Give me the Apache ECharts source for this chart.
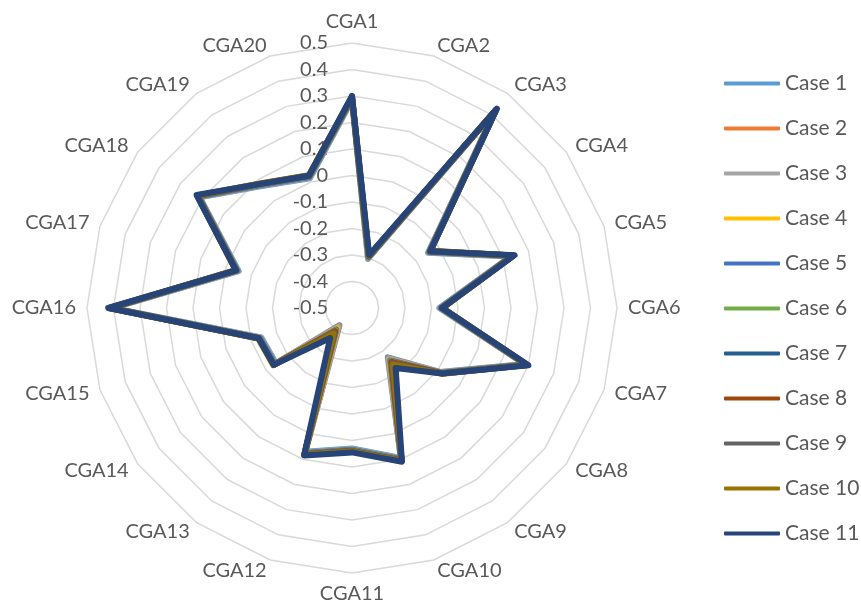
<!DOCTYPE html>
<html>
<head>
<meta charset="utf-8">
<script src="https://cdn.jsdelivr.net/npm/echarts@6/dist/echarts.min.js"></script>
<style>
  html, body { margin: 0; padding: 0; background: #ffffff; }
  #chart { width: 861px; height: 613px; }
</style>
</head>
<body>
<div id="chart"></div>
<script>
// Indicator names, in clockwise order starting at the top
const categories = ['CGA1','CGA2','CGA3','CGA4','CGA5','CGA6','CGA7','CGA8','CGA9','CGA10',
  'CGA11','CGA12','CGA13','CGA14','CGA15','CGA16','CGA17','CGA18','CGA19','CGA20'];

// Radial scale
const axisMin = -0.5;
const axisMax = 0.5;
const axisSplits = 10;

// Series values, one array per case (same order as categories)
const case1  = [0.285,-0.305,0.415,-0.145,0.130,-0.170,0.185,-0.090,-0.270,0.095,0.030,0.070,-0.420,-0.145,-0.140,0.405,-0.050,0.210,0.070,0.015];
const case2  = [0.290,-0.300,0.420,-0.140,0.135,-0.165,0.190,-0.085,-0.265,0.100,0.035,0.075,-0.415,-0.140,-0.135,0.410,-0.045,0.215,0.075,0.020];
const case3  = [0.287,-0.302,0.417,-0.143,0.132,-0.168,0.187,-0.088,-0.262,0.097,0.032,0.072,-0.410,-0.143,-0.138,0.407,-0.048,0.212,0.072,0.017];
const case4  = [0.292,-0.298,0.422,-0.138,0.137,-0.163,0.192,-0.083,-0.258,0.102,0.037,0.077,-0.405,-0.138,-0.133,0.412,-0.043,0.217,0.077,0.022];
const case5  = [0.290,-0.299,0.420,-0.140,0.135,-0.165,0.190,-0.085,-0.255,0.100,0.035,0.075,-0.400,-0.140,-0.135,0.410,-0.045,0.215,0.075,0.020];
const case6  = [0.293,-0.297,0.423,-0.137,0.138,-0.162,0.193,-0.082,-0.250,0.103,0.038,0.078,-0.395,-0.137,-0.132,0.413,-0.042,0.218,0.078,0.023];
const case7  = [0.295,-0.295,0.425,-0.135,0.140,-0.160,0.195,-0.080,-0.245,0.105,0.040,0.080,-0.390,-0.135,-0.130,0.415,-0.040,0.220,0.080,0.025];
const case8  = [0.294,-0.296,0.424,-0.136,0.139,-0.161,0.194,-0.081,-0.248,0.104,0.039,0.079,-0.392,-0.136,-0.131,0.414,-0.041,0.219,0.079,0.024];
const case9  = [0.296,-0.294,0.426,-0.134,0.141,-0.159,0.196,-0.079,-0.240,0.106,0.041,0.081,-0.385,-0.134,-0.129,0.416,-0.039,0.221,0.081,0.026];
const case10 = [0.297,-0.293,0.427,-0.133,0.142,-0.158,0.197,-0.078,-0.235,0.107,0.042,0.082,-0.380,-0.133,-0.128,0.417,-0.038,0.222,0.082,0.027];
const case11 = [0.300,-0.290,0.430,-0.135,0.145,-0.160,0.200,-0.080,-0.220,0.110,0.045,0.085,-0.360,-0.135,-0.130,0.420,-0.040,0.225,0.080,0.025];

const seriesNames = ['Case 1','Case 2','Case 3','Case 4','Case 5','Case 6','Case 7','Case 8','Case 9','Case 10','Case 11'];
const seriesValues = [case1, case2, case3, case4, case5, case6, case7, case8, case9, case10, case11];
const seriesColors = ['#5B9BD5','#ED7D31','#A5A5A5','#FFC000','#4472C4','#70AD47','#255E91','#9E480E','#636363','#997300','#264478'];

const fontFamily = 'Lato, "Open Sans", sans-serif';
const textColor = '#595959';

// The radar lays indicators out counter-clockwise; keep the first one at the
// top and reverse the rest so the categories run clockwise.
const order = [0].concat(categories.map((_, i) => i).slice(1).reverse());

const indicators = order.map(idx => {
  const ind = { name: categories[idx], min: axisMin, max: axisMax };
  if (idx === 0) {
    // Only the top spoke carries the value labels
    ind.axisLabel = {
      show: true,
      color: textColor,
      fontSize: 20,
      fontFamily: fontFamily,
      margin: 24,
      formatter: v => String(Math.round(v * 10) / 10)
    };
  }
  return ind;
});

const chart = echarts.init(document.getElementById('chart'), null, { renderer: 'canvas' });

chart.setOption({
  animation: false,
  backgroundColor: '#ffffff',
  color: seriesColors,
  legend: {
    orient: 'vertical',
    left: 719,
    top: 68,
    itemWidth: 56,
    itemHeight: 4,
    itemGap: 24,
    icon: 'roundRect',
    textStyle: { color: textColor, fontSize: 21, fontFamily: fontFamily, lineHeight: 19 },
    data: seriesNames
  },
  radar: {
    center: [352, 308],
    radius: 265,
    startAngle: 90,
    splitNumber: axisSplits,
    shape: 'polygon',
    indicator: indicators,
    axisName: { color: textColor, fontSize: 20, fontFamily: fontFamily },
    nameGap: 11,
    axisLine: { show: false },
    axisTick: { show: false },
    axisLabel: { show: false },
    splitLine: { lineStyle: { color: '#d9d9d9', width: 1.5 } },
    splitArea: { show: false }
  },
  series: seriesNames.map((name, i) => ({
    name: name,
    type: 'radar',
    symbol: 'none',
    z: 2 + i,
    lineStyle: { width: 6, color: seriesColors[i], join: 'round', cap: 'round' },
    itemStyle: { color: seriesColors[i] },
    data: [{ name: name, value: order.map(idx => seriesValues[i][idx]) }]
  }))
});
</script>
</body>
</html>
